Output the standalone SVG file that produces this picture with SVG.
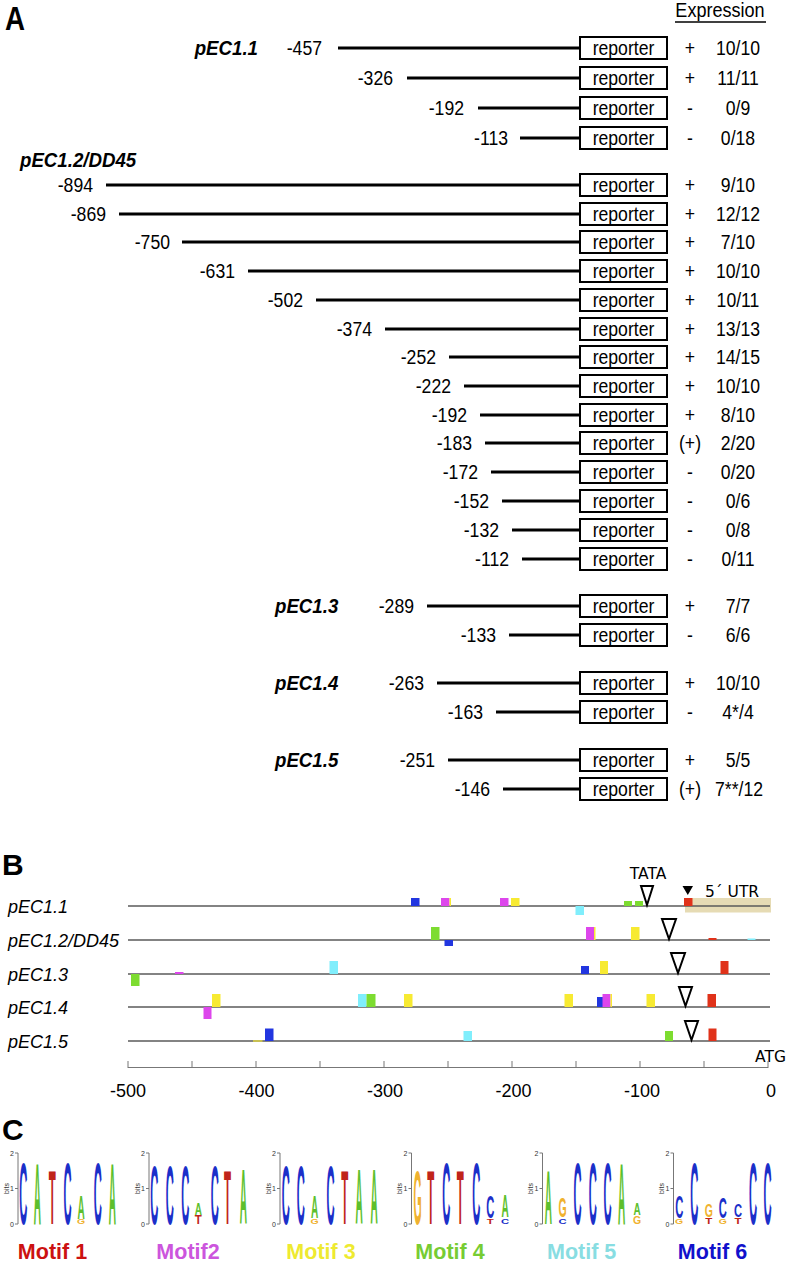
<svg xmlns="http://www.w3.org/2000/svg" width="788" height="1262" viewBox="0 0 788 1262">
<style>
.t{font-family:'Liberation Sans',Arial,sans-serif;font-size:21px;fill:#000}
.e{text-anchor:end}.mid{text-anchor:middle}
.nm{font-weight:bold;font-style:italic}
.ln{stroke:#000;stroke-width:3}
.bx{fill:#fff;stroke:#000;stroke-width:2}
.pl{font-family:'Liberation Sans',Arial,sans-serif;font-weight:bold;font-size:30px}
.trk{stroke:#5a5a5a;stroke-width:1.5}
.bl{font-family:'Liberation Sans',Arial,sans-serif;font-style:italic;font-size:18px}
.dv{font-family:'DejaVu Sans',sans-serif;font-size:15.5px}
.tk{font-family:'Liberation Sans',Arial,sans-serif;font-size:18px;text-anchor:middle}
.ax{stroke:#777;stroke-width:1;fill:none}
.tri{fill:#fff;stroke:#000;stroke-width:2;stroke-linejoin:miter}
.m1{fill:#e0321a}.m2{fill:#dd46ec}.m3{fill:#f7ea32}.m4{fill:#7ddc30}.m5{fill:#80eefc}.m6{fill:#2236e0}
.lg{font-family:'Liberation Sans',Arial,sans-serif;font-weight:bold;font-size:10px;text-anchor:middle}
.A{fill:#5dbf2d}.C{fill:#1b2fc9}.G{fill:#f0b22e}.T{fill:#c0241a}
.sm{font-family:'Liberation Sans',Arial,sans-serif;font-size:7px;fill:#333}
.ml{font-family:'Liberation Sans',Arial,sans-serif;font-weight:bold;font-size:21.5px;text-anchor:middle}
</style>
<rect width="788" height="1262" fill="#fff"/>

<!-- Panel A -->
<g id="panelA">
<text class="t" transform="translate(5,30) scale(.84,1)" style="font-weight:bold;font-size:33px">A</text>
<text class="t mid" transform="translate(720,17) scale(.86,1)">Expression</text>
<line x1="675" y1="22" x2="766" y2="22" stroke="#000" stroke-width="1.5"/>

<text class="t nm e" transform="translate(258,55) scale(.89,1)">pEC1.1</text>
<g id="c1_457"><line class="ln" x1="338" y1="48" x2="580" y2="48"/><text class="t e" transform="translate(322,55) scale(.84,1)">-457</text><rect class="bx" x="580" y="37" width="87" height="22"/><text class="t mid" transform="translate(623.5,55) scale(.84,1)">reporter</text><text class="t mid" transform="translate(690,55) scale(.84,1)">+</text><text class="t mid" transform="translate(738,55) scale(.84,1)">10/10</text></g>
<g id="c1_326"><line class="ln" x1="407" y1="78" x2="580" y2="78"/><text class="t e" transform="translate(393,85) scale(.84,1)">-326</text><rect class="bx" x="580" y="67" width="87" height="22"/><text class="t mid" transform="translate(623.5,85) scale(.84,1)">reporter</text><text class="t mid" transform="translate(690,85) scale(.84,1)">+</text><text class="t mid" transform="translate(738,85) scale(.84,1)">11/11</text></g>
<g id="c1_192"><line class="ln" x1="478" y1="108" x2="580" y2="108"/><text class="t e" transform="translate(464,115) scale(.84,1)">-192</text><rect class="bx" x="580" y="97" width="87" height="22"/><text class="t mid" transform="translate(623.5,115) scale(.84,1)">reporter</text><text class="t mid" transform="translate(690,115) scale(.84,1)">-</text><text class="t mid" transform="translate(738,115) scale(.84,1)">0/9</text></g>
<g id="c1_113"><line class="ln" x1="520" y1="138" x2="580" y2="138"/><text class="t e" transform="translate(508,145) scale(.84,1)">-113</text><rect class="bx" x="580" y="127" width="87" height="22"/><text class="t mid" transform="translate(623.5,145) scale(.84,1)">reporter</text><text class="t mid" transform="translate(690,145) scale(.84,1)">-</text><text class="t mid" transform="translate(738,145) scale(.84,1)">0/18</text></g>

<text class="t nm" transform="translate(20,167) scale(.89,1)">pEC1.2/DD45</text>
<g id="c2_894"><line class="ln" x1="106" y1="185" x2="580" y2="185"/><text class="t e" transform="translate(93,192) scale(.84,1)">-894</text><rect class="bx" x="580" y="174" width="87" height="22"/><text class="t mid" transform="translate(623.5,192) scale(.84,1)">reporter</text><text class="t mid" transform="translate(690,192) scale(.84,1)">+</text><text class="t mid" transform="translate(738,192) scale(.84,1)">9/10</text></g>
<g id="c2_869"><line class="ln" x1="119" y1="214" x2="580" y2="214"/><text class="t e" transform="translate(106,221) scale(.84,1)">-869</text><rect class="bx" x="580" y="203" width="87" height="22"/><text class="t mid" transform="translate(623.5,221) scale(.84,1)">reporter</text><text class="t mid" transform="translate(690,221) scale(.84,1)">+</text><text class="t mid" transform="translate(738,221) scale(.84,1)">12/12</text></g>
<g id="c2_750"><line class="ln" x1="182" y1="242" x2="580" y2="242"/><text class="t e" transform="translate(170,249) scale(.84,1)">-750</text><rect class="bx" x="580" y="231" width="87" height="22"/><text class="t mid" transform="translate(623.5,249) scale(.84,1)">reporter</text><text class="t mid" transform="translate(690,249) scale(.84,1)">+</text><text class="t mid" transform="translate(738,249) scale(.84,1)">7/10</text></g>
<g id="c2_631"><line class="ln" x1="248" y1="271" x2="580" y2="271"/><text class="t e" transform="translate(235,278) scale(.84,1)">-631</text><rect class="bx" x="580" y="260" width="87" height="22"/><text class="t mid" transform="translate(623.5,278) scale(.84,1)">reporter</text><text class="t mid" transform="translate(690,278) scale(.84,1)">+</text><text class="t mid" transform="translate(738,278) scale(.84,1)">10/10</text></g>
<g id="c2_502"><line class="ln" x1="316" y1="300" x2="580" y2="300"/><text class="t e" transform="translate(303,307) scale(.84,1)">-502</text><rect class="bx" x="580" y="289" width="87" height="22"/><text class="t mid" transform="translate(623.5,307) scale(.84,1)">reporter</text><text class="t mid" transform="translate(690,307) scale(.84,1)">+</text><text class="t mid" transform="translate(738,307) scale(.84,1)">10/11</text></g>
<g id="c2_374"><line class="ln" x1="385" y1="329" x2="580" y2="329"/><text class="t e" transform="translate(372,336) scale(.84,1)">-374</text><rect class="bx" x="580" y="318" width="87" height="22"/><text class="t mid" transform="translate(623.5,336) scale(.84,1)">reporter</text><text class="t mid" transform="translate(690,336) scale(.84,1)">+</text><text class="t mid" transform="translate(738,336) scale(.84,1)">13/13</text></g>
<g id="c2_252"><line class="ln" x1="449" y1="357" x2="580" y2="357"/><text class="t e" transform="translate(436,364) scale(.84,1)">-252</text><rect class="bx" x="580" y="346" width="87" height="22"/><text class="t mid" transform="translate(623.5,364) scale(.84,1)">reporter</text><text class="t mid" transform="translate(690,364) scale(.84,1)">+</text><text class="t mid" transform="translate(738,364) scale(.84,1)">14/15</text></g>
<g id="c2_222"><line class="ln" x1="464" y1="386" x2="580" y2="386"/><text class="t e" transform="translate(451,393) scale(.84,1)">-222</text><rect class="bx" x="580" y="375" width="87" height="22"/><text class="t mid" transform="translate(623.5,393) scale(.84,1)">reporter</text><text class="t mid" transform="translate(690,393) scale(.84,1)">+</text><text class="t mid" transform="translate(738,393) scale(.84,1)">10/10</text></g>
<g id="c2_192"><line class="ln" x1="480" y1="415" x2="580" y2="415"/><text class="t e" transform="translate(467,422) scale(.84,1)">-192</text><rect class="bx" x="580" y="404" width="87" height="22"/><text class="t mid" transform="translate(623.5,422) scale(.84,1)">reporter</text><text class="t mid" transform="translate(690,422) scale(.84,1)">+</text><text class="t mid" transform="translate(738,422) scale(.84,1)">8/10</text></g>
<g id="c2_183"><line class="ln" x1="485" y1="443" x2="580" y2="443"/><text class="t e" transform="translate(472,450) scale(.84,1)">-183</text><rect class="bx" x="580" y="432" width="87" height="22"/><text class="t mid" transform="translate(623.5,450) scale(.84,1)">reporter</text><text class="t mid" transform="translate(690,450) scale(.84,1)">(+)</text><text class="t mid" transform="translate(738,450) scale(.84,1)">2/20</text></g>
<g id="c2_172"><line class="ln" x1="491" y1="472" x2="580" y2="472"/><text class="t e" transform="translate(478,479) scale(.84,1)">-172</text><rect class="bx" x="580" y="461" width="87" height="22"/><text class="t mid" transform="translate(623.5,479) scale(.84,1)">reporter</text><text class="t mid" transform="translate(690,479) scale(.84,1)">-</text><text class="t mid" transform="translate(738,479) scale(.84,1)">0/20</text></g>
<g id="c2_152"><line class="ln" x1="502" y1="501" x2="580" y2="501"/><text class="t e" transform="translate(489,508) scale(.84,1)">-152</text><rect class="bx" x="580" y="490" width="87" height="22"/><text class="t mid" transform="translate(623.5,508) scale(.84,1)">reporter</text><text class="t mid" transform="translate(690,508) scale(.84,1)">-</text><text class="t mid" transform="translate(738,508) scale(.84,1)">0/6</text></g>
<g id="c2_132"><line class="ln" x1="512" y1="530" x2="580" y2="530"/><text class="t e" transform="translate(499,537) scale(.84,1)">-132</text><rect class="bx" x="580" y="519" width="87" height="22"/><text class="t mid" transform="translate(623.5,537) scale(.84,1)">reporter</text><text class="t mid" transform="translate(690,537) scale(.84,1)">-</text><text class="t mid" transform="translate(738,537) scale(.84,1)">0/8</text></g>
<g id="c2_112"><line class="ln" x1="522" y1="559" x2="580" y2="559"/><text class="t e" transform="translate(509,566) scale(.84,1)">-112</text><rect class="bx" x="580" y="548" width="87" height="22"/><text class="t mid" transform="translate(623.5,566) scale(.84,1)">reporter</text><text class="t mid" transform="translate(690,566) scale(.84,1)">-</text><text class="t mid" transform="translate(738,566) scale(.84,1)">0/11</text></g>

<text class="t nm" transform="translate(275,613) scale(.89,1)">pEC1.3</text>
<g id="c3_289"><line class="ln" x1="427" y1="606" x2="580" y2="606"/><text class="t e" transform="translate(414,613) scale(.84,1)">-289</text><rect class="bx" x="580" y="595" width="87" height="22"/><text class="t mid" transform="translate(623.5,613) scale(.84,1)">reporter</text><text class="t mid" transform="translate(690,613) scale(.84,1)">+</text><text class="t mid" transform="translate(738,613) scale(.84,1)">7/7</text></g>
<g id="c3_133"><line class="ln" x1="509" y1="635" x2="580" y2="635"/><text class="t e" transform="translate(496,642) scale(.84,1)">-133</text><rect class="bx" x="580" y="624" width="87" height="22"/><text class="t mid" transform="translate(623.5,642) scale(.84,1)">reporter</text><text class="t mid" transform="translate(690,642) scale(.84,1)">-</text><text class="t mid" transform="translate(738,642) scale(.84,1)">6/6</text></g>

<text class="t nm" transform="translate(275,690) scale(.89,1)">pEC1.4</text>
<g id="c4_263"><line class="ln" x1="437" y1="683" x2="580" y2="683"/><text class="t e" transform="translate(424,690) scale(.84,1)">-263</text><rect class="bx" x="580" y="672" width="87" height="22"/><text class="t mid" transform="translate(623.5,690) scale(.84,1)">reporter</text><text class="t mid" transform="translate(690,690) scale(.84,1)">+</text><text class="t mid" transform="translate(738,690) scale(.84,1)">10/10</text></g>
<g id="c4_163"><line class="ln" x1="496" y1="712" x2="580" y2="712"/><text class="t e" transform="translate(483,719) scale(.84,1)">-163</text><rect class="bx" x="580" y="701" width="87" height="22"/><text class="t mid" transform="translate(623.5,719) scale(.84,1)">reporter</text><text class="t mid" transform="translate(690,719) scale(.84,1)">-</text><text class="t mid" transform="translate(738,719) scale(.84,1)">4*/4</text></g>

<text class="t nm" transform="translate(275,767) scale(.89,1)">pEC1.5</text>
<g id="c5_251"><line class="ln" x1="448" y1="760" x2="580" y2="760"/><text class="t e" transform="translate(435,767) scale(.84,1)">-251</text><rect class="bx" x="580" y="749" width="87" height="22"/><text class="t mid" transform="translate(623.5,767) scale(.84,1)">reporter</text><text class="t mid" transform="translate(690,767) scale(.84,1)">+</text><text class="t mid" transform="translate(738,767) scale(.84,1)">5/5</text></g>
<g id="c5_146"><line class="ln" x1="503" y1="789" x2="580" y2="789"/><text class="t e" transform="translate(490,796) scale(.84,1)">-146</text><rect class="bx" x="580" y="778" width="87" height="22"/><text class="t mid" transform="translate(623.5,796) scale(.84,1)">reporter</text><text class="t mid" transform="translate(690,796) scale(.84,1)">(+)</text><text class="t mid" transform="translate(739,796) scale(.84,1)">7**/12</text></g>
</g>

<!-- Panel B -->
<g id="panelB">
<text class="pl" x="2" y="875">B</text>
<rect x="685" y="898" width="86" height="14.5" fill="#e6dbb4"/>
<g id="tracks">
<line class="trk" x1="128" y1="906" x2="770" y2="906"/>
<line class="trk" x1="128" y1="940" x2="770" y2="940"/>
<line class="trk" x1="128" y1="974" x2="770" y2="974"/>
<line class="trk" x1="128" y1="1007" x2="770" y2="1007"/>
<line class="trk" x1="128" y1="1041" x2="770" y2="1041"/>
</g>
<text class="bl" x="8" y="913">pEC1.1</text>
<text class="bl" x="8" y="947">pEC1.2/DD45</text>
<text class="bl" x="8" y="981">pEC1.3</text>
<text class="bl" x="8" y="1014">pEC1.4</text>
<text class="bl" x="8" y="1048">pEC1.5</text>

<g id="row1">
<rect class="m6" x="411" y="898" width="8.5" height="8"/>
<rect class="m2" x="441" y="898" width="8.5" height="8"/><rect class="m3" x="449.5" y="898" width="1.5" height="8"/>
<rect class="m2" x="500" y="898" width="8.5" height="8"/>
<rect class="m3" x="511" y="898" width="8.5" height="8"/>
<rect class="m5" x="575.5" y="906" width="8.5" height="9"/>
<rect class="m4" x="624" y="901" width="8" height="5"/>
<rect class="m4" x="635" y="901" width="8" height="5"/>
<rect class="m1" x="684" y="898" width="8.5" height="8"/>
<polygon class="tri" points="641,886 653,886 647,905"/>
<polygon points="682.5,886 693,886 687.8,895" fill="#000"/>
<text class="dv" x="648" y="879" text-anchor="middle">TATA</text>
<text class="dv" x="705" y="897">5´ UTR</text>
</g>
<g id="row2">
<rect class="m4" x="431" y="927" width="8.5" height="13"/>
<rect class="m6" x="444.5" y="940" width="8.5" height="6"/>
<rect class="m2" x="586" y="927" width="8" height="13"/><rect class="m3" x="594" y="927" width="1.5" height="13"/>
<rect class="m3" x="631" y="927" width="8.5" height="13"/>
<polygon class="tri" points="662,919 676,919 669,939"/>
<rect class="m1" x="708.5" y="938" width="8" height="2"/>
<rect class="m5" x="747.5" y="938.5" width="8" height="1.5"/>
</g>
<g id="row3">
<rect class="m4" x="131" y="974" width="8.5" height="12"/>
<rect class="m2" x="175" y="972" width="8.5" height="2"/>
<rect class="m5" x="329.5" y="961" width="8.5" height="13"/>
<rect class="m6" x="581" y="966" width="8" height="8"/>
<rect class="m3" x="600" y="961" width="8" height="13"/>
<polygon class="tri" points="671,953 685,953 678,973"/>
<rect class="m1" x="720.5" y="961" width="8" height="13"/>
</g>
<g id="row4">
<rect class="m2" x="203.5" y="1007" width="8" height="12"/>
<rect class="m3" x="212" y="994" width="8.5" height="13"/>
<rect class="m5" x="358" y="994" width="8.5" height="13"/>
<rect class="m4" x="366.5" y="994" width="9" height="13"/>
<rect class="m3" x="404" y="994" width="8.5" height="13"/>
<rect class="m3" x="564.5" y="994" width="8.5" height="13"/>
<rect class="m6" x="597" y="997" width="6.5" height="10"/>
<rect class="m2" x="602.5" y="994" width="8" height="13"/><rect class="m3" x="610.5" y="994" width="1.5" height="13"/>
<rect class="m3" x="646.5" y="994" width="8.5" height="13"/>
<polygon class="tri" points="679,987 692,987 685.5,1006"/>
<rect class="m1" x="707.5" y="994" width="8.5" height="13"/>
</g>
<g id="row5">
<rect class="m3" x="253" y="1040" width="9.5" height="2" opacity="0.6"/>
<rect class="m6" x="265" y="1028.5" width="8.5" height="12.5"/>
<rect class="m5" x="463.5" y="1031" width="8.5" height="10"/>
<rect class="m4" x="665" y="1031" width="8" height="10"/>
<polygon class="tri" points="685,1021 698,1021 691.5,1040"/>
<rect class="m1" x="708.5" y="1028.5" width="8" height="12.5"/>
</g>
<text class="dv" x="786" y="1062" text-anchor="end">ATG</text>
<g id="axis">
<line class="ax" x1="128" y1="1067.5" x2="768" y2="1067.5"/>
<path class="ax" d="M128,1061V1068M192,1061V1068M256,1061V1068M320,1061V1068M384,1061V1068M448,1061V1068M512,1061V1068M576,1061V1068M640,1061V1068M704,1061V1068M768,1061V1068"/>
<text class="tk" x="128" y="1097">-500</text>
<text class="tk" x="256.5" y="1097">-400</text>
<text class="tk" x="385" y="1097">-300</text>
<text class="tk" x="513.5" y="1097">-200</text>
<text class="tk" x="642" y="1097">-100</text>
<text class="tk" x="771" y="1097">0</text>
</g>
</g>

<!-- Panel C -->
<g id="panelC">
<text class="pl" x="2" y="1140">C</text>
<g id="logoAxes">
<path class="ax" d="M18,1153V1224M15,1153H18M15,1188.5H18M15,1224H18 M149,1153V1224M146,1153H149M146,1188.5H149M146,1224H149 M280,1153V1224M277,1153H280M277,1188.5H280M277,1224H280 M411.5,1153V1224M408.5,1153H411.5M408.5,1188.5H411.5M408.5,1224H411.5 M542.5,1153V1224M539.5,1153H542.5M539.5,1188.5H542.5M539.5,1224H542.5 M673.5,1153V1224M670.5,1153H673.5M670.5,1188.5H673.5M670.5,1224H673.5"/>
<text class="sm" x="14" y="1155.5" text-anchor="end">2</text><text class="sm" x="14" y="1191" text-anchor="end">1</text><text class="sm" x="14" y="1226.5" text-anchor="end">0</text>
<text class="sm" x="145" y="1155.5" text-anchor="end">2</text><text class="sm" x="145" y="1191" text-anchor="end">1</text><text class="sm" x="145" y="1226.5" text-anchor="end">0</text>
<text class="sm" x="276" y="1155.5" text-anchor="end">2</text><text class="sm" x="276" y="1191" text-anchor="end">1</text><text class="sm" x="276" y="1226.5" text-anchor="end">0</text>
<text class="sm" x="407.5" y="1155.5" text-anchor="end">2</text><text class="sm" x="407.5" y="1191" text-anchor="end">1</text><text class="sm" x="407.5" y="1226.5" text-anchor="end">0</text>
<text class="sm" x="538.5" y="1155.5" text-anchor="end">2</text><text class="sm" x="538.5" y="1191" text-anchor="end">1</text><text class="sm" x="538.5" y="1226.5" text-anchor="end">0</text>
<text class="sm" x="669.5" y="1155.5" text-anchor="end">2</text><text class="sm" x="669.5" y="1191" text-anchor="end">1</text><text class="sm" x="669.5" y="1226.5" text-anchor="end">0</text>
<text class="sm" transform="translate(8.5,1188.5) rotate(-90)" text-anchor="middle">bits</text>
<text class="sm" transform="translate(139.5,1188.5) rotate(-90)" text-anchor="middle">bits</text>
<text class="sm" transform="translate(270.5,1188.5) rotate(-90)" text-anchor="middle">bits</text>
<text class="sm" transform="translate(402,1188.5) rotate(-90)" text-anchor="middle">bits</text>
<text class="sm" transform="translate(533,1188.5) rotate(-90)" text-anchor="middle">bits</text>
<text class="sm" transform="translate(664,1188.5) rotate(-90)" text-anchor="middle">bits</text>
</g>
<g id="motif1">
<text class="lg C" transform="translate(23.3,1224) scale(1.12,8.66)">C</text>
<text class="lg A" transform="translate(37.3,1224) scale(1,8.66)">A</text>
<text class="lg T" transform="translate(52.2,1224) scale(1.15,7.54)">T</text>
<text class="lg C" transform="translate(67.5,1224) scale(1.12,8.66)">C</text>
<text class="lg A" transform="translate(81,1219) scale(1,3.35)">A</text>
<text class="lg G" transform="translate(81,1224) scale(1.05,0.63)">G</text>
<text class="lg C" transform="translate(97.7,1224) scale(1.12,8.66)">C</text>
<text class="lg A" transform="translate(112.3,1224) scale(1,8.66)">A</text>
<text class="ml" x="52.5" y="1259" fill="#cc1111">Motif 1</text>
</g>
<g id="motif2">
<text class="lg C" transform="translate(154.2,1224) scale(1.12,8.38)">C</text>
<text class="lg C" transform="translate(169.8,1224) scale(1.12,8.38)">C</text>
<text class="lg C" transform="translate(185.2,1224) scale(1.12,8.38)">C</text>
<text class="lg A" transform="translate(198.3,1215) scale(1,1.68)">A</text>
<text class="lg T" transform="translate(198.3,1224) scale(1.15,1.26)">T</text>
<text class="lg C" transform="translate(214.7,1224) scale(1.12,8.38)">C</text>
<text class="lg T" transform="translate(227.5,1224) scale(1.15,7.68)">T</text>
<text class="lg A" transform="translate(243.3,1224) scale(1,7.82)">A</text>
<text class="ml" x="188" y="1259" fill="#cc55dd">Motif2</text>
</g>
<g id="motif3">
<text class="lg C" transform="translate(285.8,1224) scale(1.12,8.38)">C</text>
<text class="lg C" transform="translate(300.8,1224) scale(1.12,8.38)">C</text>
<text class="lg A" transform="translate(314.5,1218) scale(1,3.21)">A</text>
<text class="lg G" transform="translate(314.5,1224) scale(1.05,0.77)">G</text>
<text class="lg C" transform="translate(330.5,1224) scale(1.12,8.38)">C</text>
<text class="lg T" transform="translate(344.7,1224) scale(1.15,7.54)">T</text>
<text class="lg A" transform="translate(359.2,1224) scale(1,7.82)">A</text>
<text class="lg A" transform="translate(374.2,1224) scale(1,7.82)">A</text>
<text class="ml" x="321" y="1259" fill="#eeea30">Motif 3</text>
</g>
<g id="motif4">
<text class="lg G" transform="translate(417.5,1224) scale(1.05,7.54)">G</text>
<text class="lg T" transform="translate(430.8,1224) scale(1.15,7.54)">T</text>
<text class="lg C" transform="translate(446.2,1224) scale(1.12,8.66)">C</text>
<text class="lg T" transform="translate(460.3,1224) scale(1.15,7.54)">T</text>
<text class="lg C" transform="translate(476.3,1224) scale(1.12,8.66)">C</text>
<text class="lg C" transform="translate(490.3,1218) scale(1.12,3.21)">C</text>
<text class="lg T" transform="translate(490.3,1224) scale(1.15,0.77)">T</text>
<text class="lg A" transform="translate(505,1217) scale(1,3.07)">A</text>
<text class="lg C" transform="translate(505,1224) scale(1.12,0.77)">C</text>
<text class="ml" x="450" y="1259" fill="#77cc33">Motif 4</text>
</g>
<g id="motif5">
<text class="lg A" transform="translate(548.3,1224) scale(1,7.54)">A</text>
<text class="lg G" transform="translate(562.5,1216.5) scale(1.05,2.79)">G</text>
<text class="lg C" transform="translate(562.5,1224) scale(1.12,0.77)">C</text>
<text class="lg C" transform="translate(577.5,1224) scale(1.12,8.66)">C</text>
<text class="lg C" transform="translate(592.8,1224) scale(1.12,8.66)">C</text>
<text class="lg C" transform="translate(607.5,1224) scale(1.12,8.66)">C</text>
<text class="lg A" transform="translate(621.7,1224) scale(1,8.66)">A</text>
<text class="lg A" transform="translate(637,1215) scale(1,1.68)">A</text>
<text class="lg G" transform="translate(637,1224) scale(1.05,1.05)">G</text>
<text class="ml" x="581.7" y="1259" fill="#88dde2">Motif 5</text>
</g>
<g id="motif6">
<text class="lg C" transform="translate(679.2,1218) scale(1.12,3.21)">C</text>
<text class="lg G" transform="translate(679.2,1224) scale(1.05,0.7)">G</text>
<text class="lg C" transform="translate(694.2,1224) scale(1.12,8.66)">C</text>
<text class="lg G" transform="translate(708.8,1216.5) scale(1.05,1.89)">G</text>
<text class="lg T" transform="translate(708.8,1224) scale(1.15,0.98)">T</text>
<text class="lg C" transform="translate(722.8,1218) scale(1.12,2.93)">C</text>
<text class="lg G" transform="translate(722.8,1224) scale(1.05,0.7)">G</text>
<text class="lg C" transform="translate(738,1216.5) scale(1.12,1.82)">C</text>
<text class="lg T" transform="translate(738,1224) scale(1.15,0.98)">T</text>
<text class="lg C" transform="translate(753,1224) scale(1.12,8.66)">C</text>
<text class="lg C" transform="translate(767.5,1224) scale(1.12,8.66)">C</text>
<text class="ml" x="712.5" y="1259" fill="#1111cc">Motif 6</text>
</g>
</g>
</svg>
